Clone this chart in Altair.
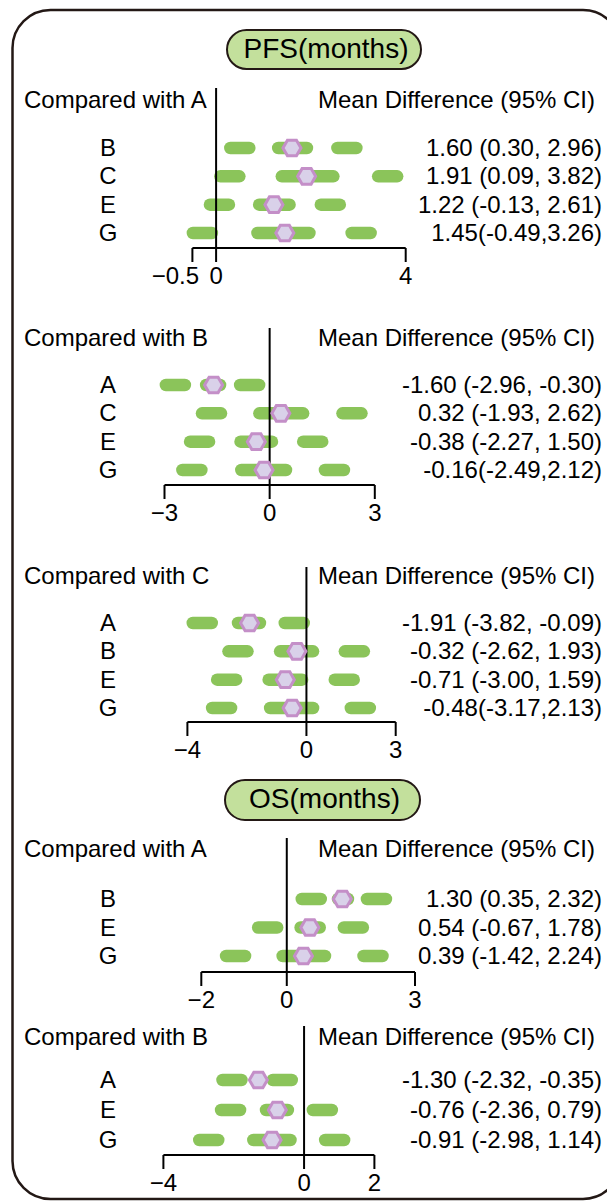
import altair as alt
import pandas as pd

FONT = "Liberation Sans"
GREEN = "#8bc45a"
HEX_FILL = "#d9d1e9"
HEX_STROKE = "#c48fc8"
INK = "#231815"
HEX = "M-1,0L-0.5,-0.866L0.5,-0.866L1,0L0.5,0.866L-0.5,0.866Z"

# ---------------- data ----------------
# PFS, compared with A
p1_rows = ["B", "C", "E", "G"]
p1_mean = [1.60, 1.91, 1.22, 1.45]
p1_low = [0.30, 0.09, -0.13, -0.49]
p1_high = [2.96, 3.82, 2.61, 3.26]
p1_text = ["1.60 (0.30, 2.96)", "1.91 (0.09, 3.82)", "1.22 (-0.13, 2.61)", "1.45(-0.49,3.26)"]
p1_ticks = [-0.5, 0, 4]
p1_tick_labels = ["\u22120.5", "0", "4"]

# PFS, compared with B
p2_rows = ["A", "C", "E", "G"]
p2_mean = [-1.60, 0.32, -0.38, -0.16]
p2_low = [-2.96, -1.93, -2.27, -2.49]
p2_high = [-0.30, 2.62, 1.50, 2.12]
p2_text = ["-1.60 (-2.96, -0.30)", "0.32 (-1.93, 2.62)", "-0.38 (-2.27, 1.50)", "-0.16(-2.49,2.12)"]
p2_ticks = [-3, 0, 3]
p2_tick_labels = ["\u22123", "0", "3"]

# PFS, compared with C
p3_rows = ["A", "B", "E", "G"]
p3_mean = [-1.91, -0.32, -0.71, -0.48]
p3_low = [-3.82, -2.62, -3.00, -3.17]
p3_high = [-0.09, 1.93, 1.59, 2.13]
p3_text = ["-1.91 (-3.82, -0.09)", "-0.32 (-2.62, 1.93)", "-0.71 (-3.00, 1.59)", "-0.48(-3.17,2.13)"]
p3_ticks = [-4, 0, 3]
p3_tick_labels = ["\u22124", "0", "3"]

# OS, compared with A
p4_rows = ["B", "E", "G"]
p4_mean = [1.30, 0.54, 0.39]
p4_low = [0.35, -0.67, -1.42]
p4_high = [2.32, 1.78, 2.24]
p4_text = ["1.30 (0.35, 2.32)", "0.54 (-0.67, 1.78)", "0.39 (-1.42, 2.24)"]
p4_ticks = [-2, 0, 3]
p4_tick_labels = ["\u22122", "0", "3"]

# OS, compared with B
p5_rows = ["A", "E", "G"]
p5_mean = [-1.30, -0.76, -0.91]
p5_low = [-2.32, -2.36, -2.98]
p5_high = [-0.35, 0.79, 1.14]
p5_text = ["-1.30 (-2.32, -0.35)", "-0.76 (-2.36, 0.79)", "-0.91 (-2.98, 1.14)"]
p5_ticks = [-4, 0, 2]
p5_tick_labels = ["\u22124", "0", "2"]

HEADER_RIGHT = "Mean Difference (95% CI)"


def one(text):
    return pd.DataFrame({"t": [text]})


def panel(ref, rows, mean, low, high, texts, ticks, tick_labels,
          xrange, yrange, header_y, axis_y, zero_top, first_dx=0):
    xs = alt.Scale(domain=[ticks[0], ticks[-1]], range=list(xrange))
    ys = alt.Scale(type="point", domain=rows, range=list(yrange), padding=0)
    ppu = (xrange[1] - xrange[0]) / (ticks[-1] - ticks[0])

    df = pd.DataFrame({"row": rows, "mean": mean, "low": low, "high": high, "text": texts})

    # dashed CI drawn as three rounded dashes: one at each end, one round the mean
    seg = []
    end = 19.0 / ppu
    for r, m, lo, hi in zip(rows, mean, low, high):
        seg.append({"row": r, "s": lo, "e": lo + end})
        seg.append({"row": r, "s": hi - end, "e": hi})
        cl = max(0.0, 0.45 * (m - lo) * ppu - 14) / ppu
        cr = max(0.0, 0.45 * (hi - m) * ppu - 14) / ppu
        if cl + cr > 0:
            seg.append({"row": r, "s": m - cl, "e": m + cr})
    seg = pd.DataFrame(seg)

    tk = pd.DataFrame({"v": ticks, "label": tick_labels})

    dashes = alt.Chart(seg).mark_rule(strokeWidth=12.5, strokeCap="round", color=GREEN).encode(
        x=alt.X("s:Q", scale=xs, axis=None),
        x2="e:Q",
        y=alt.Y("row:N", scale=ys, axis=None),
    )
    zero = alt.Chart(one("z")).mark_rule(color="black", strokeWidth=2).encode(
        x=alt.XDatum(0, type="quantitative", scale=xs, axis=None),
        y=alt.value(zero_top),
        y2=alt.value(axis_y),
    )
    hexes = alt.Chart(df).mark_point(
        shape=HEX, size=324, filled=True, fill=HEX_FILL, stroke=HEX_STROKE,
        strokeWidth=3, opacity=1
    ).encode(
        x=alt.X("mean:Q", scale=xs, axis=None),
        y=alt.Y("row:N", scale=ys, axis=None),
    )
    domain_line = alt.Chart(one("d")).mark_rule(color="black", strokeWidth=2).encode(
        x=alt.XDatum(ticks[0], type="quantitative", scale=xs, axis=None),
        x2=alt.X2Datum(ticks[-1]),
        y=alt.value(axis_y),
    )
    tick_marks = alt.Chart(tk).mark_rule(color="black", strokeWidth=2).encode(
        x=alt.X("v:Q", scale=xs, axis=None),
        y=alt.value(axis_y),
        y2=alt.value(axis_y + 14),
    )
    tick_text = alt.Chart(tk.iloc[1:]).mark_text(fontSize=24, baseline="middle", align="center").encode(
        x=alt.X("v:Q", scale=xs, axis=None),
        y=alt.value(axis_y + 29),
        text="label:N",
    )
    tick_text0 = alt.Chart(tk.iloc[:1]).mark_text(fontSize=24, baseline="middle", align="center",
                                                   dx=first_dx).encode(
        x=alt.X("v:Q", scale=xs, axis=None),
        y=alt.value(axis_y + 29),
        text="label:N",
    )
    row_labels = alt.Chart(df).mark_text(fontSize=24, baseline="middle", align="center", dy=1).encode(
        x=alt.value(108),
        y=alt.Y("row:N", scale=ys, axis=None),
        text="row:N",
    )
    values = alt.Chart(df).mark_text(fontSize=24, baseline="middle", align="right", dy=1).encode(
        x=alt.value(602),
        y=alt.Y("row:N", scale=ys, axis=None),
        text="text:N",
    )
    head_l = alt.Chart(one("Compared with " + ref)).mark_text(
        fontSize=24, baseline="alphabetic", align="left").encode(
        x=alt.value(24), y=alt.value(header_y + 8.5), text="t:N")
    head_r = alt.Chart(one(HEADER_RIGHT)).mark_text(
        fontSize=24, baseline="alphabetic", align="right").encode(
        x=alt.value(595), y=alt.value(header_y + 8.5), text="t:N")

    return alt.layer(dashes, zero, hexes, domain_line, tick_marks, tick_text, tick_text0,
                     row_labels, values, head_l, head_r)


def pill(text, x0, x1, y0, y1):
    box = alt.Chart(one(text)).mark_rect(
        cornerRadius=(y1 - y0) / 2, fill="#c3e09c", stroke=INK, strokeWidth=2
    ).encode(x=alt.value(x0), x2=alt.value(x1), y=alt.value(y0), y2=alt.value(y1))
    label = alt.Chart(one(text)).mark_text(fontSize=28, baseline="middle", align="center", dy=1).encode(
        x=alt.value((x0 + x1) / 2 + 2), y=alt.value((y0 + y1) / 2 - 1), text="t:N")
    return alt.layer(box, label)


border = alt.Chart(one("b")).mark_rect(
    cornerRadius=38, fillOpacity=0, stroke=INK, strokeWidth=2.5
).encode(x=alt.value(12.5), x2=alt.value(621), y=alt.value(10), y2=alt.value(1199))

p1 = panel("A", p1_rows, p1_mean, p1_low, p1_high, p1_text, p1_ticks, p1_tick_labels,
           (192.4, 405.7), (148, 233), 99, 248, 88, first_dx=-17)
p2 = panel("B", p2_rows, p2_mean, p2_low, p2_high, p2_text, p2_ticks, p2_tick_labels,
           (164.5, 374.8), (385, 470), 337, 485, 328)
p3 = panel("C", p3_rows, p3_mean, p3_low, p3_high, p3_text, p3_ticks, p3_tick_labels,
           (187.4, 395.7), (623, 708), 575, 722, 567)
p4 = panel("A", p4_rows, p4_mean, p4_low, p4_high, p4_text, p4_ticks, p4_tick_labels,
           (201.3, 415.0), (899, 956), 848, 972, 838)
p5 = panel("B", p5_rows, p5_mean, p5_low, p5_high, p5_text, p5_ticks, p5_tick_labels,
           (163.4, 374.4), (1080, 1140), 1036, 1155, 1026)

chart = alt.layer(
    border,
    pill("PFS(months)", 227, 421, 30, 69),
    pill("OS(months)", 225, 420, 780, 820),
    p1, p2, p3, p4, p5,
).resolve_scale(x="independent", y="independent").properties(
    width=607, height=1201, padding=0,
    autosize=alt.AutoSizeParams(type="none"),
    background="white",
).configure_view(stroke=None).configure_text(font=FONT, color="black")

chart.save("out.html", embed_options={"renderer": "svg", "actions": False})
